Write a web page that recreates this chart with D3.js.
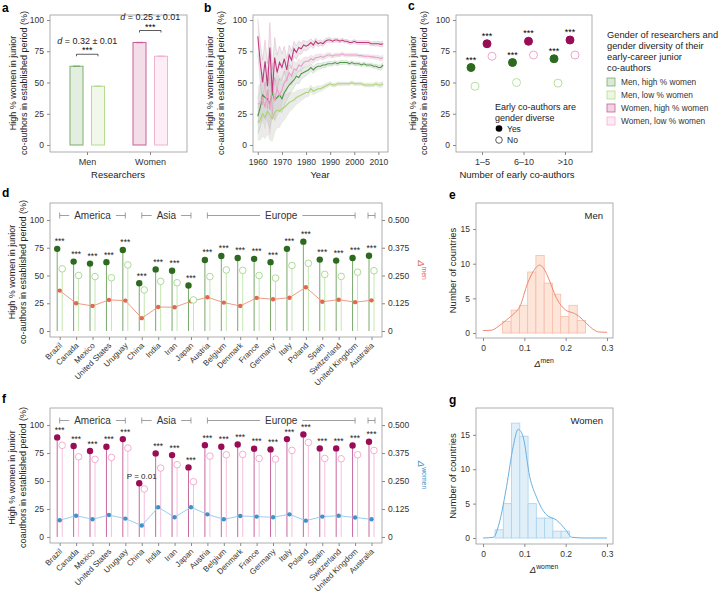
<!DOCTYPE html>
<html>
<head>
<meta charset="utf-8">
<script src="https://cdn.jsdelivr.net/npm/d3@7"></script>
<style>
body { margin: 0; background: #fff; }
svg { font-family: "Liberation Sans", Arial, sans-serif; }
</style>
</head>
<body>
<script>
// ---------- data ----------
const researchers = ["Men", "Women"];
const barHigh = [63, 82];
const barLow = [47, 71];
const effectSizes = ["0.32 ± 0.01", "0.25 ± 0.01"];

const years = d3.range(1960, 2013);
const womenHighYear = [87,66,50,67,47,78,42,70,58,66, 62,69,60,72,68,77,74,78,77,80, 79,80,82,80,83,81,82,81,83,84,
  84,83,84,84,83,84,83,83,82,82, 83,82,82,82,82,82,82,81,81,81, 81,80.5,81];
const womenLowYear = [33,33,38,30,44,28,48,35,45,40, 44,50,52,58,55,61,60,64,63,66, 67,67,69,68,70,70,71,70,71,72,
  72,71,72,72,72,73,72,72,72,72, 72,72,71.5,71.5,71,71,71,70.5,70.5,70, 70,69,70];
const menHighYear = [23,30,40,38,37,33,42,36,38,40, 37,42,45,48,50,52,55,54,57,58, 59,60,62,60,62,63,63,64,64,65,
  65,65,66,65,66,66,66,66,65,66, 65,65,65,64,65,64,64,64,63,63, 62,62,64];
const menLowYear = [18,20,25,22,27,24,21,26,28,27, 29,30,32,34,35,36,38,39,40,41, 42,42,45,43,44,45,45,46,47,48,
  49,48,48,49,49,49,49,49,49,50, 49,49,49,49,48,48,48,48,48,49, 48,48,49];
const bandHalf = [14,16,18,17,18,20,18,16,14,13, 11,10,9,8,7,6,5.5,5,4.5,4, 3.5,3.2,3,2.8,2.6,2.4,2.2,2,2,1.8,
  1.8,1.6,1.6,1.5,1.5,1.5,1.4,1.4,1.4,1.4, 1.4,1.4,1.4,1.4,1.4,1.5,1.5,1.5,1.6,1.6, 1.8,2,2.2];

const coauthorBins = ["1–5", "6–10", ">10"];
const cMenHigh = [62, 66, 69];
const cMenLow = [47, 50, 49.5];
const cWomenHigh = [81, 83, 84];
const cWomenLow = [71, 72, 72];

const countries = ["Brazil","Canada","Mexico","United States","Uruguay","China","India","Iran","Japan",
  "Austria","Belgium","Denmark","France","Germany","Italy","Poland","Spain","Switzerland","United Kingdom","Australia"];
const regions = [
  { name: "America", first: "Brazil", last: "Uruguay" },
  { name: "Asia", first: "China", last: "Japan" },
  { name: "Europe", first: "Austria", last: "United Kingdom" },
  { name: "", first: "Australia", last: "Australia" }
];
const dMenHigh = [74,62.5,60.7,62,73,43,55.5,54.3,41,64,67.6,65.8,65,62,74,80.5,64.3,63.4,65.8,67.8];
const dMenLow = [56,50,49,48,59.5,37,44.7,43.5,28,49,55,54.6,50,47.7,59,61,51,49.2,53,54.3];
const deltaMen = [0.182,0.125,0.113,0.14,0.137,0.058,0.108,0.107,0.134,0.152,0.128,0.113,0.149,0.143,0.15,0.197,0.132,0.141,0.13,0.138];
const dSig = ["***","***","***","***","***","***","***","***","***","***","***","***","***","***","***","***","***","***","***","***"];

const fWomenHigh = [89,81.3,76.8,80.7,87.5,48,74.7,73.2,62.2,82.1,80.7,82.7,78.9,78.3,87.5,91.7,79.2,79.2,81.8,85.1];
const fWomenLow = [81.9,71.7,69.4,71.1,79.5,42.9,61.6,64.6,49.4,72.3,73.5,73.8,70.2,69.6,77.4,84.5,70.2,69.9,73.5,77.4];
const deltaWomen = [0.075,0.095,0.079,0.098,0.082,0.051,0.133,0.088,0.133,0.101,0.079,0.094,0.091,0.088,0.101,0.073,0.091,0.095,0.087,0.079];
const fSig = ["***","***","***","***","***","P = 0.01","***","***","***","***","***","***","***","***","***","***","***","***","***","***"];

const eBinEdges = [0.047,0.068,0.088,0.108,0.128,0.148,0.168,0.188,0.208,0.228,0.248];
const eCounts = [1.7,3.3,4.0,8.8,11.2,7.2,5.6,2.4,4.0,1.8];
const eKdeX = [0,0.02,0.036,0.057,0.075,0.089,0.108,0.125,0.137,0.147,0.157,0.178,0.2,0.222,0.24,0.25,0.265,0.28,0.3];
const eKdeY = [0.35,0.4,0.9,1.9,2.8,3.8,7.2,9.2,9.8,9.3,8.1,5.0,3.3,2.8,2.0,1.4,0.6,0.15,0.1];

const gBinEdges = [0.029,0.049,0.069,0.089,0.109,0.129,0.149,0.169,0.189,0.209];
const gCounts = [1.2,5.0,16.7,14.8,5.0,2.9,2.9,1.0,1.0];
const gKdeX = [0,0.025,0.041,0.057,0.073,0.085,0.097,0.113,0.129,0.153,0.178,0.2,0.215,0.25,0.3];
const gKdeY = [0,0.1,2.6,7.5,13.3,15.8,14.7,8.9,6.0,3.4,2.6,1.2,0.1,0,0];

// ---------- helpers ----------
const svg = d3.select("body").append("svg").attr("width", 719).attr("height", 593);
const frameColor = "#9a9a9a";

function frame(x0, y0, x1, y1) {
  svg.append("rect").attr("x", x0).attr("y", y0).attr("width", x1 - x0).attr("height", y1 - y0)
    .attr("fill", "none").attr("stroke", frameColor).attr("stroke-width", 0.8);
}

function styleAxis(g, size) {
  g.select(".domain").remove();
  g.selectAll(".tick line").attr("stroke", "#8a8a8a");
  g.selectAll(".tick text").attr("fill", "#333").attr("font-size", size || 8.5);
}

function letter(t, x, y) {
  svg.append("text").attr("x", x).attr("y", y).text(t)
    .attr("font-weight", "bold").attr("font-size", 12).attr("fill", "#000");
}

function yTitle(lines, x, cy) {
  lines.forEach((l, i) => {
    svg.append("text").attr("transform", `translate(${x + i * 11},${cy}) rotate(-90)`)
      .attr("text-anchor", "middle").attr("font-size", 9).attr("fill", "#222").text(l);
  });
}

function xTitle(t, x, y) {
  svg.append("text").attr("x", x).attr("y", y).attr("text-anchor", "middle")
    .attr("font-size", 9.5).attr("fill", "#222").text(t);
}

function deltaLabel(sel, sup) {
  sel.append("tspan").attr("font-style", "italic").text("Δ");
  sel.append("tspan").attr("font-size", "0.72em").attr("dy", "-0.55em").text(sup);
}

const pct = [0, 25, 50, 75, 100];

// ---------- panel a ----------
letter("a", 2, 12);
const yA = d3.scaleLinear().domain([-5.6, 104]).range([152, 15]);
const xA = d3.scalePoint().domain(researchers).range([87, 150]);
frame(50, 15, 187, 152);
styleAxis(svg.append("g").attr("transform", "translate(50,0)")
  .call(d3.axisLeft(yA).tickValues(pct).tickSize(3).tickPadding(3)));
styleAxis(svg.append("g").attr("transform", "translate(0,152)")
  .call(d3.axisBottom(xA).tickSize(3).tickPadding(4)), 9);

const aStyles = [
  { vals: barHigh, off: -17, fill: "#e4eee0", stroke: "#7bb06a" },
  { vals: barLow, off: 4.5, fill: "#f1f8e9", stroke: "#b5dc90" }
];
researchers.forEach((r, i) => {
  const womenCol = i === 1;
  const st = womenCol
    ? [{ fill: "#f3dde9", stroke: "#c8609a" }, { fill: "#fdeef6", stroke: "#f2b2d2" }]
    : [{ fill: "#e4eee0", stroke: "#7bb06a" }, { fill: "#f1f8e9", stroke: "#b5dc90" }];
  aStyles.forEach((s, k) => {
    const x = xA(r) + s.off;
    svg.append("rect").attr("x", x).attr("y", yA(s.vals[i])).attr("width", 13)
      .attr("height", yA(0) - yA(s.vals[i]))
      .attr("fill", st[k].fill).attr("stroke", st[k].stroke).attr("stroke-width", 1);
    svg.append("line").attr("x1", x + 3).attr("x2", x + 10)
      .attr("y1", yA(s.vals[i])).attr("y2", yA(s.vals[i]))
      .attr("stroke", st[k].stroke).attr("stroke-width", 1.4);
  });
  const xL = xA(r) - 17 + 6.5, xR = xA(r) + 4.5 + 6.5;
  const top = yA(barHigh[i]) - 12;
  svg.append("path").attr("d", `M${xL},${top + 2}V${top}H${xR}V${top + 2}`)
    .attr("fill", "none").attr("stroke", "#333").attr("stroke-width", 0.8);
  svg.append("text").attr("x", (xL + xR) / 2).attr("y", top - 1).attr("text-anchor", "middle")
    .attr("font-size", 9).text("***");
  const t = svg.append("text").attr("x", (xL + xR) / 2).attr("y", top - 10.5)
    .attr("text-anchor", "middle").attr("font-size", 9).attr("fill", "#222");
  t.append("tspan").attr("font-style", "italic").text("d");
  t.append("tspan").text(" = " + effectSizes[i]);
});
yTitle(["High % women in junior", "co-authors in established period (%)"], 16, 83);
xTitle("Researchers", 118, 178);

// ---------- panel b ----------
letter("b", 204, 12);
const xB = d3.scaleLinear().domain([1958, 2014]).range([253, 388]);
const yB = d3.scaleLinear().domain([-5.6, 104]).range([152, 15]);
frame(253, 15, 388, 152);
styleAxis(svg.append("g").attr("transform", "translate(253,0)")
  .call(d3.axisLeft(yB).tickValues(pct).tickSize(3).tickPadding(3)));
styleAxis(svg.append("g").attr("transform", "translate(0,152)")
  .call(d3.axisBottom(xB).tickValues([1960, 1970, 1980, 1990, 2000, 2010])
    .tickFormat(d3.format("d")).tickSize(3).tickPadding(4)));

const bSeries = [
  { vals: menLowYear, color: "#a9d46f" },
  { vals: menHighYear, color: "#4f9a45" },
  { vals: womenLowYear, color: "#ee9cc4" },
  { vals: womenHighYear, color: "#c2387f" }
];
const clipB = svg.append("clipPath").attr("id", "clipB").append("rect")
  .attr("x", 253).attr("y", 15).attr("width", 135).attr("height", 137);
const gB = svg.append("g").attr("clip-path", "url(#clipB)");
bSeries.forEach(s => {
  const area = d3.area().x((d, i) => xB(years[i]))
    .y0((d, i) => yB(d - bandHalf[i])).y1((d, i) => yB(d + bandHalf[i]));
  gB.append("path").datum(s.vals).attr("d", area)
    .attr("fill", "#cfcfcf").attr("fill-opacity", 0.42);
  [-1, 1].forEach(sg => {
    gB.append("path").datum(s.vals)
      .attr("d", d3.line().x((d, i) => xB(years[i])).y((d, i) => yB(d + sg * bandHalf[i])))
      .attr("fill", "none").attr("stroke", s.color).attr("stroke-opacity", 0.35).attr("stroke-width", 0.5);
  });
});
bSeries.forEach(s => {
  gB.append("path").datum(s.vals)
    .attr("d", d3.line().x((d, i) => xB(years[i])).y(d => yB(d)))
    .attr("fill", "none").attr("stroke", s.color).attr("stroke-width", 1.1);
});
yTitle(["High % women in junior", "co-authors in established period (%)"], 213, 83);
xTitle("Year", 320, 178);

// ---------- panel c ----------
letter("c", 408, 10);
const yC = d3.scaleLinear().domain([-5.6, 104]).range([152, 15]);
const xC = d3.scalePoint().domain(coauthorBins).range([482, 565]);
frame(456, 15, 592, 152);
styleAxis(svg.append("g").attr("transform", "translate(456,0)")
  .call(d3.axisLeft(yC).tickValues(pct).tickSize(3).tickPadding(3)));
styleAxis(svg.append("g").attr("transform", "translate(0,152)")
  .call(d3.axisBottom(xC).tickSize(3).tickPadding(4)), 9);

const cSeries = [
  { vals: cMenHigh, off: -11, filled: true, color: "#2d6a1f", star: true },
  { vals: cMenLow, off: -7, filled: false, color: "#b8e09c" },
  { vals: cWomenHigh, off: 5, filled: true, color: "#980d55", star: true },
  { vals: cWomenLow, off: 10, filled: false, color: "#f2a5cb" }
];
cSeries.forEach(s => {
  coauthorBins.forEach((b, i) => {
    const cx = xC(b) + s.off, cy = yC(s.vals[i]);
    svg.append("circle").attr("cx", cx).attr("cy", cy).attr("r", 4)
      .attr("fill", s.filled ? s.color : "#fff").attr("stroke", s.color).attr("stroke-width", 1);
    if (s.star) {
      svg.append("text").attr("x", cx).attr("y", cy - 5).attr("text-anchor", "middle")
        .attr("font-size", 9).text("***");
    }
  });
});
svg.append("text").attr("x", 495).attr("y", 110).attr("font-size", 9).attr("fill", "#222").text("Early co-authors are");
svg.append("text").attr("x", 495).attr("y", 121).attr("font-size", 9).attr("fill", "#222").text("gender diverse");
svg.append("circle").attr("cx", 499).attr("cy", 128.5).attr("r", 3.3).attr("fill", "#000");
svg.append("text").attr("x", 507).attr("y", 131.5).attr("font-size", 8.5).attr("fill", "#222").text("Yes");
svg.append("circle").attr("cx", 499).attr("cy", 140).attr("r", 3.3).attr("fill", "#fff").attr("stroke", "#333").attr("stroke-width", 0.8);
svg.append("text").attr("x", 507).attr("y", 143).attr("font-size", 8.5).attr("fill", "#222").text("No");
yTitle(["High % women in junior", "co-authors in established period (%)"], 416, 83);
xTitle("Number of early co-authors", 517, 178);

// legend for a-c
const legTitle = ["Gender of researchers and", "gender diversity of their", "early-career junior", "co-authors"];
legTitle.forEach((l, i) => {
  svg.append("text").attr("x", 607).attr("y", 38 + i * 11).attr("font-size", 9.3).attr("fill", "#222").text(l);
});
const legItems = [
  { label: "Men, high % women", fill: "#dbe9d6", stroke: "#7bb06a" },
  { label: "Men, low % women", fill: "#eef7e2", stroke: "#b5dc90" },
  { label: "Women, high % women", fill: "#f1d3e3", stroke: "#c8609a" },
  { label: "Women, low % women", fill: "#fcebf4", stroke: "#f2b2d2" }
];
legItems.forEach((it, i) => {
  const y = 78 + i * 13;
  svg.append("rect").attr("x", 607).attr("y", y).attr("width", 8).attr("height", 8)
    .attr("fill", it.fill).attr("stroke", it.stroke).attr("stroke-width", 0.8);
  svg.append("text").attr("x", 621).attr("y", y + 7).attr("font-size", 8.3).attr("fill", "#333").text(it.label);
});

// ---------- panels d and f ----------
const xCountry = d3.scalePoint().domain(countries).range([59.7, 371.5]);

function lollipop(cfg) {
  const y = d3.scaleLinear().domain([-5.4, 115.3]).range([cfg.y1, cfg.y0]);
  const yR = d3.scaleLinear().domain([-5.4 / 200, 115.3 / 200]).range([cfg.y1, cfg.y0]);
  frame(50, cfg.y0, 382, cfg.y1);
  styleAxis(svg.append("g").attr("transform", "translate(50,0)")
    .call(d3.axisLeft(y).tickValues(pct).tickSize(3).tickPadding(3)));
  styleAxis(svg.append("g").attr("transform", "translate(382,0)")
    .call(d3.axisRight(yR).tickValues([0, 0.125, 0.25, 0.375, 0.5])
      .tickFormat(d => d === 0 ? "0" : d3.format(".3f")(d)).tickSize(3).tickPadding(3)));
  styleAxis(svg.append("g").attr("transform", `translate(0,${cfg.y1})`)
    .call(d3.axisBottom(xCountry).tickSize(3).tickFormat("")));

  countries.forEach((c, i) => {
    const x = xCountry(c);
    svg.append("text").attr("transform", `translate(${x + 3},${cfg.y1 + 9}) rotate(-45)`)
      .attr("text-anchor", "end").attr("font-size", 8).attr("fill", "#333").text(c);
    svg.append("line").attr("x1", x + 2.5).attr("x2", x + 2.5).attr("y1", y(0)).attr("y2", y(cfg.low[i]))
      .attr("stroke", cfg.lowStem).attr("stroke-width", 1);
    svg.append("line").attr("x1", x - 2.5).attr("x2", x - 2.5).attr("y1", y(0)).attr("y2", y(cfg.high[i]))
      .attr("stroke", cfg.highStem).attr("stroke-width", 1);
  });

  // region brackets
  const by = cfg.y0 + 12.5;
  regions.forEach(r => {
    let a = xCountry(r.first), b = xCountry(r.last);
    if (r.first === r.last) { a -= 3.5; b += 3.5; }
    const g = svg.append("g").attr("stroke", "#888").attr("stroke-width", 0.8).attr("fill", "none");
    g.append("path").attr("d", `M${a},${by - 3}V${by + 3}M${b},${by - 3}V${by + 3}`);
    if (r.name) {
      const t = svg.append("text").attr("x", (a + b) / 2).attr("y", by + 3.5).attr("text-anchor", "middle")
        .attr("font-size", 10).attr("fill", "#333").text(r.name);
      const w = t.node().getComputedTextLength() / 2 + 5;
      g.append("path").attr("d", `M${a},${by}H${(a + b) / 2 - w}M${(a + b) / 2 + w},${by}H${b}`);
    } else {
      g.append("path").attr("d", `M${a},${by}H${b}`);
    }
  });

  // delta line
  svg.append("path").datum(cfg.delta)
    .attr("d", d3.line().x((d, i) => xCountry(countries[i])).y(d => yR(d)))
    .attr("fill", "none").attr("stroke", cfg.deltaLine).attr("stroke-width", 1);
  countries.forEach((c, i) => {
    const x = xCountry(c);
    svg.append("circle").attr("cx", x).attr("cy", yR(cfg.delta[i])).attr("r", 2.2).attr("fill", cfg.deltaDot);
    svg.append("circle").attr("cx", x + 2.5).attr("cy", y(cfg.low[i])).attr("r", 3.3)
      .attr("fill", "#fff").attr("stroke", cfg.lowColor).attr("stroke-width", 0.9);
    svg.append("circle").attr("cx", x - 2.5).attr("cy", y(cfg.high[i])).attr("r", 3.2)
      .attr("fill", cfg.highColor);
    svg.append("text").attr("x", x).attr("y", y(cfg.high[i]) - 4.5).attr("text-anchor", "middle")
      .attr("font-size", cfg.sig[i] === "***" ? 8.5 : 8).attr("fill", "#222").text(cfg.sig[i]);
  });

  // right axis title
  const rt = svg.append("text").attr("transform", `translate(${cfg.rtX},${cfg.rtY}) rotate(90)`)
    .attr("text-anchor", "middle").attr("font-size", 9.5).attr("fill", cfg.deltaDot);
  deltaLabel(rt, cfg.sup);
  yTitle(cfg.yTitle, 15, (cfg.y0 + cfg.y1) / 2 + 2);
}

letter("d", 2, 197);
lollipop({
  y0: 203, y1: 337, high: dMenHigh, low: dMenLow, delta: deltaMen, sig: dSig,
  highColor: "#2d6a1f", highStem: "#7aa86c", lowColor: "#a5d68a", lowStem: "#c4e6b0",
  deltaDot: "#e4674f", deltaLine: "#f09a88", sup: "men", rtX: 418, rtY: 270,
  yTitle: ["High % women in junior", "co-authors in established period (%)"]
});

letter("f", 2, 403);
lollipop({
  y0: 408, y1: 543, high: fWomenHigh, low: fWomenLow, delta: deltaWomen, sig: fSig,
  highColor: "#980d55", highStem: "#c7689f", lowColor: "#f2a5cb", lowStem: "#f5c0dc",
  deltaDot: "#3e93c8", deltaLine: "#9dcdeb", sup: "women", rtX: 418, rtY: 475,
  yTitle: ["High % women in junior", "coauthors in established period (%)"]
});

// ---------- panels e and g ----------
function histogram(cfg) {
  const x = d3.scaleLinear().domain([-0.017, 0.3145]).range([476, 613]);
  const y = d3.scaleLinear().domain(cfg.yDom).range([cfg.y1, cfg.y0]);
  frame(476, cfg.y0, 613, cfg.y1);
  styleAxis(svg.append("g").attr("transform", "translate(476,0)")
    .call(d3.axisLeft(y).tickValues([0, 5, 10, 15]).tickSize(3).tickPadding(3)));
  styleAxis(svg.append("g").attr("transform", `translate(0,${cfg.y1})`)
    .call(d3.axisBottom(x).tickValues([0, 0.1, 0.2, 0.3]).tickFormat(d => d === 0 ? "0" : d)
      .tickSize(3).tickPadding(4)));
  cfg.counts.forEach((c, i) => {
    svg.append("rect").attr("x", x(cfg.edges[i])).attr("y", y(c))
      .attr("width", x(cfg.edges[i + 1]) - x(cfg.edges[i])).attr("height", y(0) - y(c))
      .attr("fill", cfg.fill).attr("stroke", cfg.stroke).attr("stroke-width", 0.8);
  });
  svg.append("path").datum(cfg.kdeX)
    .attr("d", d3.line().x(d => x(d)).y((d, i) => y(cfg.kdeY[i])).curve(d3.curveMonotoneX))
    .attr("fill", "none").attr("stroke", cfg.line).attr("stroke-width", 1);
  svg.append("text").attr("x", 603).attr("y", cfg.y0 + 16).attr("text-anchor", "end")
    .attr("font-size", 9.5).attr("fill", "#222").text(cfg.label);
  svg.append("text").attr("transform", `translate(456,${(cfg.y0 + cfg.y1) / 2}) rotate(-90)`)
    .attr("text-anchor", "middle").attr("font-size", 9.5).attr("fill", "#222").text("Number of countries");
  const t = svg.append("text").attr("x", 544).attr("y", cfg.y1 + 29).attr("text-anchor", "middle")
    .attr("font-size", 9.5).attr("fill", "#222");
  deltaLabel(t, cfg.sup);
}

letter("e", 449, 199);
histogram({
  y0: 203, y1: 338, yDom: [-0.72, 18.76], counts: eCounts, edges: eBinEdges,
  kdeX: eKdeX, kdeY: eKdeY, fill: "#fde5da", stroke: "#f5bda9", line: "#f08a70",
  label: "Men", sup: "men"
});

letter("g", 449, 404);
histogram({
  y0: 408, y1: 544, yDom: [-0.87, 18.9], counts: gCounts, edges: gBinEdges,
  kdeX: gKdeX, kdeY: gKdeY, fill: "#e0eff8", stroke: "#a9d3ee", line: "#6ab0e0",
  label: "Women", sup: "women"
});
</script>
</body>
</html>
